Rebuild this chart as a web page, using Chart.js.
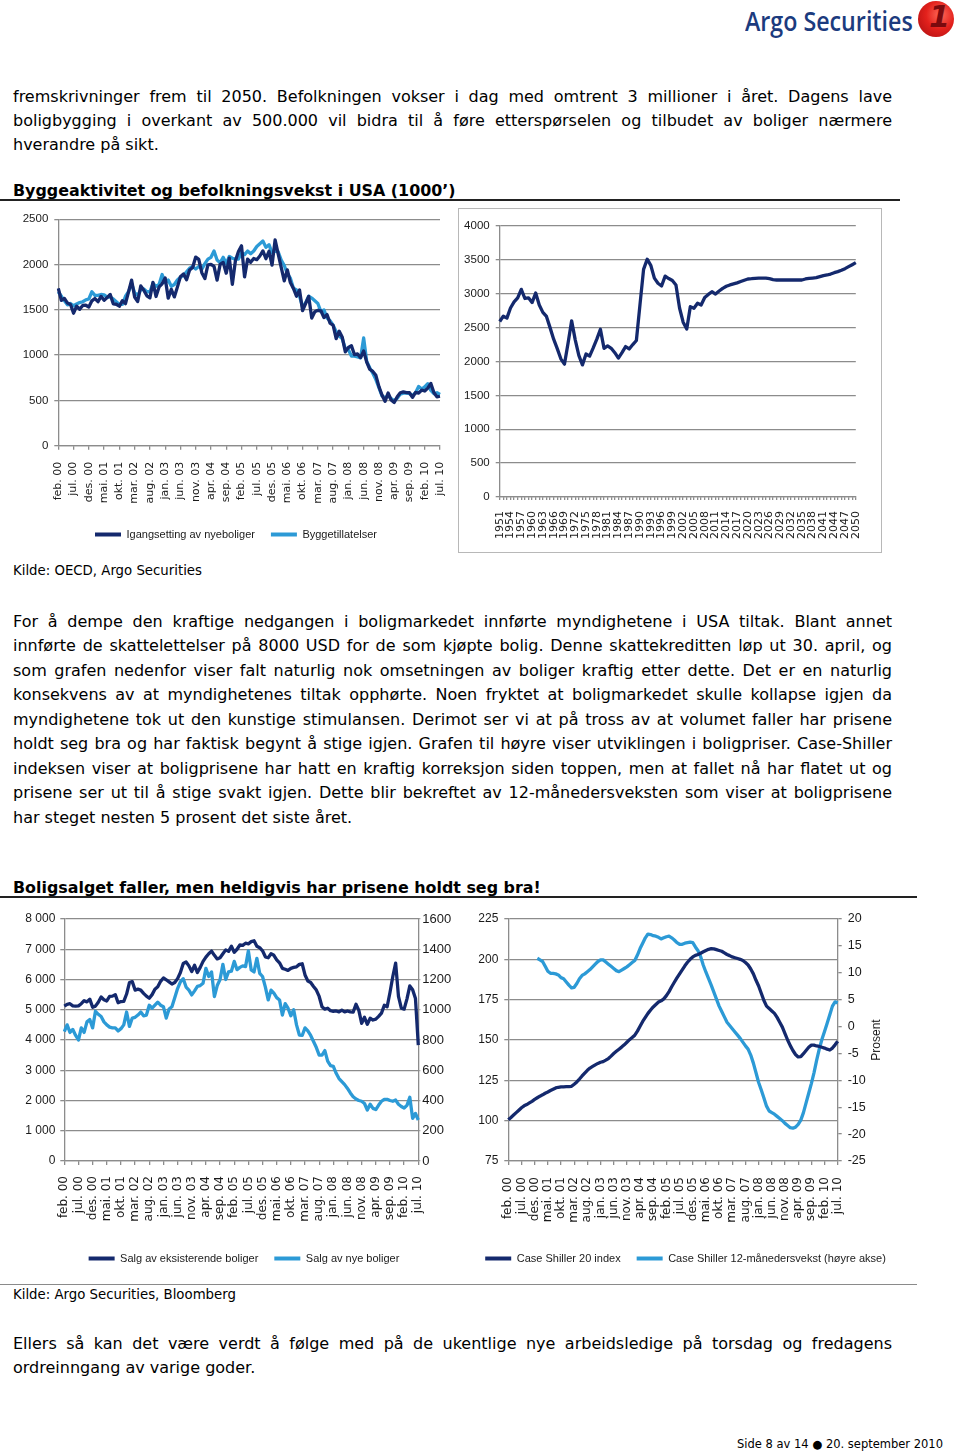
<!DOCTYPE html>
<html lang="no">
<head>
<meta charset="utf-8">
<title>Argo Securities - side 8</title>
<script src="https://cdn.jsdelivr.net/npm/chart.js@4.4.1/dist/chart.umd.min.js"></script>
<style>
  body { margin: 0; background: #fff; font-family: 'DejaVu Sans', Verdana, sans-serif; color: #000; }
  #page { position: relative; width: 960px; height: 1454px; overflow: hidden; }
  .abs { position: absolute; }
  .para { position: absolute; left: 13px; width: 879px; font-size: 16px; }
  .para div { white-space: nowrap; text-align: justify; text-align-last: justify; }
  .para div.last { text-align-last: left; }
  .title { position: absolute; left: 13px; font-weight: bold; font-size: 15.9px; line-height: 20px; white-space: nowrap; }
  .rule { position: absolute; left: 0; }
  .kilde { position: absolute; left: 13px; font-size: 13.3px; line-height: 18px; white-space: nowrap; }
  canvas { position: absolute; }
  #logoText { left: 745px; top: 2px; font-family: 'Open Sans', sans-serif; font-weight: 600; font-size: 27px; color: #1c3b7e;
    transform: scaleX(0.86); transform-origin: left center; white-space: nowrap; }
  #logoMark { left: 918px; top: 1px; width: 36px; height: 36px; border-radius: 50%;
    background: radial-gradient(circle at 62% 38%, #ff6a5a 0%, #e3211c 45%, #a80d10 100%); }
  #logoMark span { position: absolute; left: 11px; top: -2px; font: bold italic 30px 'DejaVu Sans', sans-serif; color: #7a0a0e; }
  #box2 { left: 458px; top: 208px; width: 422px; height: 343px; border: 1px solid #b8b8b8; }
  #prosent { left: 851px; top: 1033px; width: 50px; text-align: center; font: 12px 'Liberation Sans', Arial, sans-serif;
    transform: rotate(-90deg); color: #1a1a1a; }
</style>
</head>
<body>
<div id="page">
  <div class="abs" id="logoText">Argo Securities</div>
  <div class="abs" id="logoMark"><span>1</span></div>

  <div class="para" style="top:85px; line-height:24px">
    <div>fremskrivninger frem til 2050. Befolkningen vokser i dag med omtrent 3 millioner i året. Dagens lave</div>
    <div>boligbygging i overkant av 500.000 vil bidra til å føre etterspørselen og tilbudet av boliger nærmere</div>
    <div class="last">hverandre på sikt.</div>
  </div>

  <div class="title" style="top:181px">Byggeaktivitet og befolkningsvekst i USA (1000’)</div>
  <div class="rule" style="top:199px; width:900px; height:2px; background:#222"></div>

  <div class="abs" id="box2"></div>
  <canvas id="c1" width="472" height="345" style="left:0; top:205px"></canvas>
  <canvas id="c2" width="421" height="342" style="left:459px; top:209px"></canvas>

  <div class="kilde" style="top:562px">Kilde: OECD, Argo Securities</div>

  <div class="para" style="top:609.75px; line-height:24.5px">
    <div>For å dempe den kraftige nedgangen i boligmarkedet innførte myndighetene i USA tiltak. Blant annet</div>
    <div>innførte de skattelettelser på 8000 USD for de som kjøpte bolig. Denne skattekreditten løp ut 30. april, og</div>
    <div>som grafen nedenfor viser falt naturlig nok omsetningen av boliger kraftig etter dette. Det er en naturlig</div>
    <div>konsekvens av at myndighetenes tiltak opphørte. Noen fryktet at boligmarkedet skulle kollapse igjen da</div>
    <div>myndighetene tok ut den kunstige stimulansen. Derimot ser vi at på tross av at volumet faller har prisene</div>
    <div>holdt seg bra og har faktisk begynt å stige igjen. Grafen til høyre viser utviklingen i boligpriser. Case-Shiller</div>
    <div>indeksen viser at boligprisene har hatt en kraftig korreksjon siden toppen, men at fallet nå har flatet ut og</div>
    <div>prisene ser ut til å stige svakt igjen. Dette blir bekreftet av 12-månedersveksten som viser at boligprisene</div>
    <div class="last">har steget nesten 5 prosent det siste året.</div>
  </div>

  <div class="title" style="top:878px">Boligsalget faller, men heldigvis har prisene holdt seg bra!</div>
  <div class="rule" style="top:896px; width:917px; height:2px; background:#222"></div>

  <canvas id="c3" width="488" height="369" style="left:0; top:905px"></canvas>
  <canvas id="c4" width="451" height="369" style="left:460px; top:905px"></canvas>
  <div class="abs" id="prosent">Prosent</div>

  <div class="rule" style="top:1284px; width:917px; height:1px; background:#8a8a8a"></div>
  <div class="kilde" style="top:1286px">Kilde: Argo Securities, Bloomberg</div>

  <div class="para" style="top:1332px; line-height:24px">
    <div>Ellers så kan det være verdt å følge med på de ukentlige nye arbeidsledige på torsdag og fredagens</div>
    <div class="last">ordreinngang av varige goder.</div>
  </div>

  <div class="abs" style="right:17px; top:1436px; font-size:11.5px; line-height:16px; white-space:nowrap">Side 8 av 14 ● 20. september 2010</div>
</div>

<script>
// month labels feb.00 .. jul.10 (126 months)
const monthNames = ['jan.', 'feb.', 'mar.', 'apr.', 'mai.', 'jun.', 'jul.', 'aug.', 'sep.', 'okt.', 'nov.', 'des.'];
const months = [];
for (let i = 0; i < 126; i++) {
  months.push(monthNames[(i + 1) % 12] + ' ' + String(Math.floor((i + 1) / 12)).padStart(2, '0'));
}
const years = [];
for (let y = 1951; y <= 2050; y++) years.push(String(y));

// Igangsetting av nyeboliger (1000, feb.00 - jul.10)
const starts = [
  1737, 1604, 1626, 1575, 1559, 1463, 1541, 1507, 1549, 1551, 1532,
  1600, 1625, 1590, 1649, 1605, 1636, 1670, 1567, 1562, 1540, 1602, 1568,
  1698, 1829, 1642, 1592, 1764, 1717, 1655, 1633, 1804, 1648, 1753, 1788,
  1853, 1629, 1726, 1643, 1751, 1867, 1897, 1833, 1939, 1967, 2083, 2057,
  1911, 1846, 1998, 2003, 1981, 1828, 2002, 2024, 1905, 2072, 1782, 2042,
  2144, 2207, 1864, 2061, 2025, 2068, 2054, 2095, 2151, 2065, 2147, 1994,
  2273, 2119, 1969, 1821, 1942, 1802, 1737, 1650, 1720, 1491, 1570, 1649,
  1409, 1480, 1495, 1490, 1415, 1448, 1354, 1330, 1183, 1264, 1197, 1037,
  1084, 1103, 1005, 1013, 973, 1046, 923, 844, 820, 777, 652, 560,
  490, 582, 505, 478, 540, 585, 594, 586, 585, 534, 588, 581,
  614, 604, 636, 687, 588, 539, 546
];
// Byggetillatelser
const permits = [
  1700, 1650, 1600, 1555, 1570, 1545, 1565, 1580, 1590, 1610, 1620,
  1700, 1660, 1660, 1670, 1665, 1640, 1640, 1620, 1590, 1560, 1560, 1650,
  1700, 1790, 1690, 1660, 1720, 1730, 1700, 1700, 1790, 1760, 1780, 1890,
  1800, 1830, 1760, 1780, 1830, 1860, 1880, 1920, 1960, 1980, 1950, 1980,
  1950, 2010, 2060, 2080, 2150, 2050, 2020, 2080, 2010, 2090, 2070, 2060,
  2060, 2130, 2110, 2150, 2120, 2150, 2200, 2230, 2260, 2190, 2220, 2130,
  2150, 2140, 2050, 1990, 1900, 1850, 1740, 1720, 1650, 1535, 1580, 1650,
  1630, 1600, 1570, 1480, 1500, 1410, 1380, 1330, 1260, 1210, 1180, 1070,
  1060, 990, 990, 980, 970, 1190, 930, 860, 800, 730, 640, 550,
  530, 550, 520, 495, 525, 570, 580, 580, 575, 555, 585, 655,
  625, 650, 685, 610, 575, 585, 565
];
// Befolkningsvekst USA (1000), 1951 - 2050
const popGrowth = [
  2590, 2670, 2640, 2790, 2880, 2940, 3065, 2930, 2940, 2870,
  3010, 2835, 2725, 2665, 2500, 2330, 2190, 2040, 1960, 2270,
  2600, 2320, 2090, 1950, 2110, 2080, 2200, 2330, 2475, 2195,
  2230, 2195, 2130, 2050, 2130, 2220, 2185, 2250, 2310, 2840,
  3360, 3510, 3420, 3230, 3155, 3115, 3260, 3225, 3195, 3130,
  2790, 2580, 2480, 2810, 2785, 2860, 2835, 2945, 2990, 3030,
  2995, 3040, 3080, 3110, 3130, 3145, 3160, 3180, 3200, 3218,
  3222, 3228, 3232, 3232, 3230, 3223, 3210, 3203, 3203, 3203,
  3203, 3203, 3203, 3203, 3203, 3218, 3228, 3232, 3237, 3252,
  3267, 3277, 3291, 3311, 3326, 3346, 3370, 3400, 3429, 3459
];
// Salg av eksisterende boliger (1000, venstre akse)
const existingSales = [
  5120, 5180, 5200, 5130, 5120, 5130, 5200, 5300, 5260, 5350, 5080,
  5120, 5250, 5420, 5330, 5290, 5440, 5450, 5500, 5230, 5270, 5280, 5520,
  5900, 5930, 5650, 5680, 5650, 5540, 5450, 5380, 5500, 5680, 5760, 5940,
  6050, 5990, 5920, 5850, 5900, 6030, 6230, 6530, 6580, 6450, 6260, 6470,
  6230, 6400, 6600, 6740, 6850, 6940, 6800, 6680, 6720, 6850, 6980, 6930,
  7100, 6900, 7000, 7140, 7130, 7200, 7180, 7250, 7280, 7100, 7050, 6950,
  6750, 6720, 6850, 6800, 6650, 6550, 6370, 6340, 6300, 6370, 6400, 6420,
  6500, 6520, 6150, 5950, 5900, 5770, 5650, 5440, 5100, 5020, 5050, 4970,
  4950, 4960, 4930, 4990, 4930, 4960, 4930, 4920, 5180, 4980, 4550, 4750,
  4520, 4720, 4660, 4690, 4780, 4890, 5150, 5100, 5570, 6100, 6540, 5440,
  5050, 5020, 5360, 5790, 5660, 5370, 3830
];
// Salg av nye boliger (1000, høyre akse)
const newSales = [
  855, 900, 850, 870, 830, 800, 880, 850, 920, 935, 880,
  990, 970, 955, 920, 900, 885, 880, 880, 860, 875, 900, 985,
  890, 945, 950, 965, 985, 960, 965, 1030, 1010, 1030, 1050, 1030,
  1020, 945, 1005, 1020, 1080, 1140, 1185, 1205, 1150, 1130, 1098, 1125,
  1155, 1160, 1175, 1274, 1220, 1250, 1087, 1160, 1200, 1300, 1200, 1250,
  1255, 1320, 1265, 1280, 1290, 1285, 1389, 1263, 1250, 1340, 1241, 1220,
  1150, 1065, 1130, 1110, 1080, 1065, 965, 1040, 1010, 960, 1000, 900,
  833, 830, 880, 860, 830, 790, 750, 700, 700, 730, 660, 630,
  625, 580, 545, 525, 505, 480, 450, 425, 410, 400, 395, 380,
  337, 375, 348, 340, 370, 395, 408, 408, 400, 395, 403, 375,
  360, 350, 368, 421, 282, 315, 271
];
// Case Shiller 20 index
const csIndex = [
  100.6, 102.0, 103.5, 105.0, 106.5, 108.0, 109.2, 110.0, 111.0, 112.0, 113.2,
  114.2, 115.2, 116.0, 117.0, 117.8, 118.7, 119.5, 120.3, 120.7, 121.0, 121.0, 121.1,
  121.1, 121.3, 122.6, 124.0, 125.8, 127.7, 129.5, 131.2, 132.6, 133.6, 134.6, 135.5,
  136.2, 136.6, 137.5, 138.5, 140.0, 141.6, 143.0, 144.3, 145.6, 147.0, 148.6, 150.2,
  151.5, 153.0, 155.5, 158.5, 161.5, 164.0, 166.5, 168.6, 170.5, 172.0, 173.5, 174.3,
  175.5, 177.5, 180.0, 183.0, 185.8, 188.5, 191.0, 193.5, 196.0, 198.2, 200.0, 201.5,
  202.5, 203.0, 203.8, 204.7, 205.5, 206.2, 206.6, 206.5, 206.0, 205.5, 205.0, 204.0,
  203.0, 202.3, 201.5, 201.0, 200.5, 200.0, 199.3, 198.0, 196.5, 194.0, 191.0, 187.0,
  183.5, 179.0, 174.5, 171.0, 169.5, 168.0, 166.5, 164.0, 161.0, 158.0, 154.0, 150.0,
  146.5, 143.5, 141.0, 139.5, 139.7, 141.5, 143.5, 145.5, 146.8, 146.8, 146.3, 146.0,
  145.5, 145.0, 144.3, 143.8, 145.0, 147.0, 149.2
];
// Case Shiller 12-månedersvekst (%, høyre akse)
const csGrowth = [
  null, null, null, null, null, null, null, null, null, null, null,
  12.7, 12.4, 12.1, 11.2, 10.3, 9.9, 9.9, 9.8, 9.6, 9.1, 8.9, 8.3,
  7.7, 7.2, 7.3, 8.0, 8.9, 9.5, 9.8, 10.2, 10.6, 11.1, 11.6, 12.1,
  12.4, 12.4, 12.0, 11.6, 11.2, 10.8, 10.4, 10.2, 10.5, 10.8, 11.1, 11.5,
  11.9, 12.3, 13.3, 14.5, 15.5, 16.5, 17.2, 17.1, 16.9, 16.8, 16.6, 16.3,
  16.5, 16.7, 16.8, 16.5, 16.1, 15.6, 15.3, 15.3, 15.5, 15.6, 15.7, 15.6,
  14.8, 14.1, 13.0, 11.4, 10.1, 8.9, 7.7, 6.4, 5.1, 3.8, 2.8, 1.8,
  0.8, 0.2, -0.4, -1.0, -1.6, -2.2, -2.9, -3.6, -4.2, -5.3, -6.8, -8.6,
  -10.4, -11.8, -13.3, -14.8, -15.7, -16.0, -16.3, -16.7, -17.1, -17.5, -18.0, -18.4,
  -18.8, -18.9, -18.7, -18.2, -17.4, -16.0, -14.2, -12.4, -10.6, -8.6, -6.3, -4.2,
  -2.4, -0.9, 0.6, 2.2, 3.8, 4.6, 4.4
];

const DARK = '#14296d';
const LIGHT = '#2c9ad6';
const GRID = '#8c8c8c';
const TXT = '#1a1a1a';
const SANS = "'Liberation Sans', Arial, sans-serif";
const WIDE = "'DejaVu Sans', sans-serif";

Chart.defaults.font.family = SANS;
Chart.defaults.color = TXT;

function series(label, data, color, axis) {
  return {
    label: label, data: data, yAxisID: axis || 'y',
    borderColor: color, backgroundColor: color, borderWidth: 3.3,
    pointRadius: 0, tension: 0, borderJoinStyle: 'round'
  };
}

function legend() {
  return {
    position: 'bottom',
    labels: {
      usePointStyle: true, pointStyle: 'line', pointStyleWidth: 26, padding: 16,
      color: TXT, font: { family: SANS, size: 11 },
      generateLabels: function (chart) {
        return Chart.defaults.plugins.legend.labels.generateLabels(chart).map(function (l) {
          l.lineWidth = 4;
          return l;
        });
      }
    }
  };
}

function monthAxis(size, tick, pad, height) {
  return {
    grid: { drawOnChartArea: false, color: GRID, lineWidth: 1.3, tickLength: tick },
    border: { color: GRID, width: 1.3 },
    ticks: {
      autoSkip: false, minRotation: 90, maxRotation: 90, padding: pad, color: TXT,
      font: { family: WIDE, size: size },
      callback: function (v, i) { return i % 5 === 0 ? months[i] : null; }
    },
    afterFit: function (s) { s.height = height; }
  };
}

function valueAxis(o) {
  return {
    position: o.pos || 'left', min: o.min, max: o.max,
    grid: { drawOnChartArea: o.pos !== 'right', color: GRID, lineWidth: 1.3, tickLength: o.tick || 4 },
    border: { color: GRID, width: 1.3 },
    ticks: {
      stepSize: o.step, padding: o.pad || 6, color: TXT,
      font: { family: SANS, size: o.size || 11.5 },
      callback: o.fmt || function (v) { return v; }
    },
    afterFit: function (s) { s.width = o.width; }
  };
}

function options(top, right, scales, withLegend) {
  return {
    responsive: false, animation: false, devicePixelRatio: 1,
    layout: { padding: { top: top, right: right, left: 0, bottom: 0 } },
    plugins: {
      legend: withLegend ? legend() : { display: false },
      tooltip: { enabled: false }
    },
    scales: scales
  };
}

// Byggeaktivitet
new Chart(document.getElementById('c1'), {
  type: 'line',
  data: {
    labels: months,
    datasets: [
      series('Igangsetting av nyeboliger', starts, DARK),
      series('Byggetillatelser', permits, LIGHT)
    ]
  },
  options: options(14.3, 0, {
    x: monthAxis(11, 4, 12, 67.3),
    y: valueAxis({ min: 0, max: 2500, step: 500, width: 58.3 }),
    pad: {
      position: 'right', grid: { display: false }, ticks: { display: false }, border: { display: false },
      afterFit: function (s) { s.width = 32; }
    }
  }, true)
});

// Befolkningsvekst
new Chart(document.getElementById('c2'), {
  type: 'line',
  data: { labels: years, datasets: [series('Befolkningsvekst', popGrowth, DARK)] },
  options: options(17, 11.7, {
    x: {
      grid: { drawOnChartArea: false, color: GRID, lineWidth: 1.3, tickLength: 3 },
      border: { color: GRID, width: 1.3 },
      ticks: {
        autoSkip: false, minRotation: 90, maxRotation: 90, padding: 11, color: TXT,
        font: { family: WIDE, size: 11 },
        callback: function (v, i) { return i % 3 === 0 ? years[i] : ''; }
      },
      afterFit: function (s) { s.height = 54; }
    },
    y: valueAxis({ min: 0, max: 4000, step: 500, width: 40.7 })
  })
});

// Boligsalg
new Chart(document.getElementById('c3'), {
  type: 'line',
  data: {
    labels: months,
    datasets: [
      series('Salg av eksisterende boliger', existingSales, DARK, 'y'),
      series('Salg av nye boliger', newSales, LIGHT, 'y2')
    ]
  },
  options: options(14, 0, {
    x: monthAxis(12, 4, 11, 76),
    y: valueAxis({
      min: 0, max: 8000, step: 1000, size: 12, width: 64.3, pad: 5,
      fmt: function (v) { return v === 0 ? '0' : (v / 1000) + ' 000'; }
    }),
    y2: valueAxis({ pos: 'right', min: 0, max: 1600, step: 200, size: 13, width: 69.7, tick: 2, pad: 2 })
  }, true)
});

// Boligpriser
new Chart(document.getElementById('c4'), {
  type: 'line',
  data: {
    labels: months,
    datasets: [
      series('Case Shiller 20 index', csIndex, DARK, 'y'),
      series('Case Shiller 12-månedersvekst (høyre akse)', csGrowth, LIGHT, 'y2')
    ]
  },
  options: options(14, 0, {
    x: monthAxis(12, 4, 12, 76),
    y: valueAxis({ min: 75, max: 225, step: 25, size: 12, width: 48.3 }),
    y2: valueAxis({ pos: 'right', min: -25, max: 20, step: 5, size: 12.5, width: 73.3 })
  }, true)
});
</script>
</body>
</html>
